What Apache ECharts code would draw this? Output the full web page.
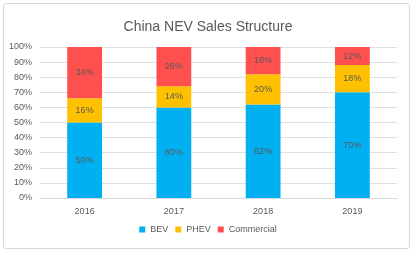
<!DOCTYPE html>
<html>
<head>
<meta charset="utf-8">
<script src="https://cdn.jsdelivr.net/npm/echarts@6/dist/echarts.min.js"></script>
<style>
  html, body { margin: 0; padding: 0; background: #fff; }
  #frame { position: absolute; left: 3px; top: 3px; width: 405px; height: 244px; border: 1px solid #d9d9d9; border-radius: 3px; }
  #chart { width: 416px; height: 253px; position: absolute; left: 0; top: 0; }
</style>
</head>
<body>
<div id="frame"></div>
<div id="chart"></div>
<script>
// values (percent of yearly sales)
const years = ['2016', '2017', '2018', '2019'];
const bev = [50, 60, 62, 70];
const phev = [16, 14, 20, 18];
const commercial = [34, 26, 18, 12];
const yTicks = [0, 10, 20, 30, 40, 50, 60, 70, 80, 90, 100];

const fontFamily = 'Liberation Sans, Arial, sans-serif';
const labelStyle = { show: true, formatter: '{c}%', color: '#595959', fontSize: 9, fontFamily: fontFamily };

function makeSeries(name, data, color) {
    return {
        name: name,
        type: 'bar',
        stack: 'total',
        barWidth: '39%',
        data: data,
        itemStyle: { color: color },
        label: labelStyle
    }
}

let myChart = echarts.init(document.getElementById('chart'));
let option = {
    animation: false,
    title: {
        text: 'China NEV Sales Structure',
        left: 'center',
        top: 15,
        textStyle: { color: '#595959', fontSize: 14, fontWeight: 'normal', fontFamily: fontFamily }
    },
    grid: { left: 40, right: 19, top: 47, bottom: 55 },
    legend: {
        bottom: 14,
        left: 'center',
        itemWidth: 6,
        itemHeight: 6,
        itemGap: 7,
        icon: 'rect',
        textStyle: { color: '#595959', fontSize: 9, fontFamily: fontFamily },
        data: ['BEV', 'PHEV', 'Commercial']
    },
    xAxis: {
        type: 'category',
        data: years,
        axisLine: { lineStyle: { color: '#d9d9d9' } },
        axisTick: { show: false },
        axisLabel: { color: '#595959', fontSize: 9, fontFamily: fontFamily, margin: 9 }
    },
    yAxis: {
        type: 'value',
        min: yTicks[0],
        max: yTicks[yTicks.length - 1],
        interval: 10,
        axisLine: { show: false },
        axisTick: { show: false },
        splitLine: { lineStyle: { color: '#e0e0e0' } },
        axisLabel: { color: '#595959', fontSize: 9, fontFamily: fontFamily, formatter: '{value}%', margin: 8 }
    },
    series: [
        makeSeries('BEV', bev, '#00b0f0'),
        makeSeries('PHEV', phev, '#ffc000'),
        makeSeries('Commercial', commercial, '#ff5050')
    ]
};
option && myChart.setOption(option);
</script>
</body>
</html>
